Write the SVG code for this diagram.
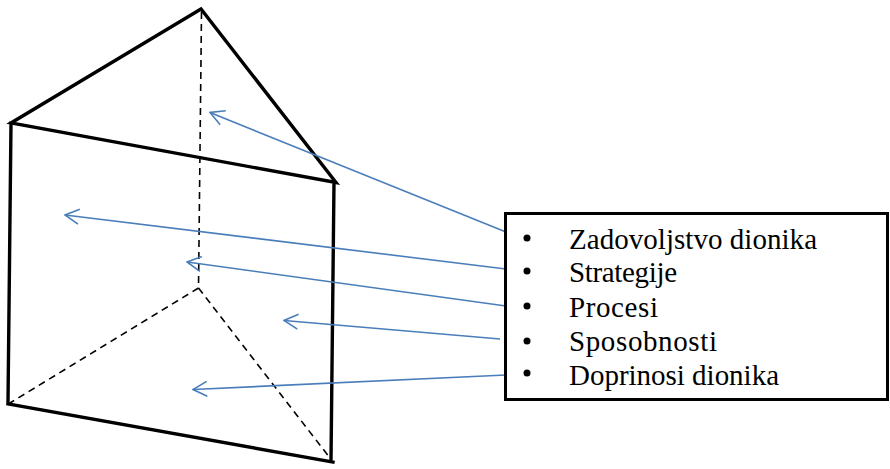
<svg xmlns="http://www.w3.org/2000/svg" width="890" height="469" viewBox="0 0 890 469">
<style>
.solid{stroke:#000;stroke-width:3.4;fill:none;stroke-linecap:square}
.dash{stroke:#000;stroke-width:1.6;fill:none;stroke-dasharray:7 5}
.arrow{stroke:#4a7ebb;stroke-width:1.6;fill:none}
text{font-family:"Liberation Serif","Times New Roman",serif;font-size:29px;fill:#000}
</style>
<defs><marker id="a" markerUnits="userSpaceOnUse" markerWidth="20" markerHeight="20" refX="19" refY="10" orient="auto" viewBox="0 0 20 20"><path d="M5 2.500 L19 10 L5 17.500" fill="none" stroke="#4a7ebb" stroke-width="1.6"/></marker></defs>
<g id="prism">
<path class="dash" d="M201.500 12 L198.500 288 M198.500 288 L10 403 M198.500 288 L330 458"/>
<path class="solid" d="M201 9 L11 123 L336 182.500 Z M11 123 L8 402 M334 182 L331 461 M8 404 L333 462"/>
</g>
<g id="connectors">
<line class="arrow" x1="506" y1="232" x2="210" y2="112.500" marker-end="url(#a)"/>
<line class="arrow" x1="506" y1="269" x2="65" y2="215" marker-end="url(#a)"/>
<line class="arrow" x1="506" y1="306" x2="187" y2="262" marker-end="url(#a)"/>
<line class="arrow" x1="500" y1="339" x2="284" y2="320.500" marker-end="url(#a)"/>
<line class="arrow" x1="506" y1="375" x2="193" y2="389.500" marker-end="url(#a)"/>
</g>
<g id="legend">
<rect x="505.500" y="213.500" width="382" height="186" fill="#fff" stroke="#000" stroke-width="3"/>
<g fill="#000"><circle cx="527" cy="238" r="3.500"/><circle cx="527" cy="271" r="3.500"/><circle cx="527" cy="306" r="3.500"/><circle cx="527" cy="341" r="3.500"/><circle cx="527" cy="373" r="3.500"/></g>
<text x="569" y="249" textLength="248">Zadovoljstvo dionika</text>
<text x="569" y="282" textLength="108">Strategije</text>
<text x="569" y="317" textLength="89">Procesi</text>
<text x="569" y="351" textLength="148">Sposobnosti</text>
<text x="569" y="385" textLength="210">Doprinosi dionika</text>
</g>
</svg>
